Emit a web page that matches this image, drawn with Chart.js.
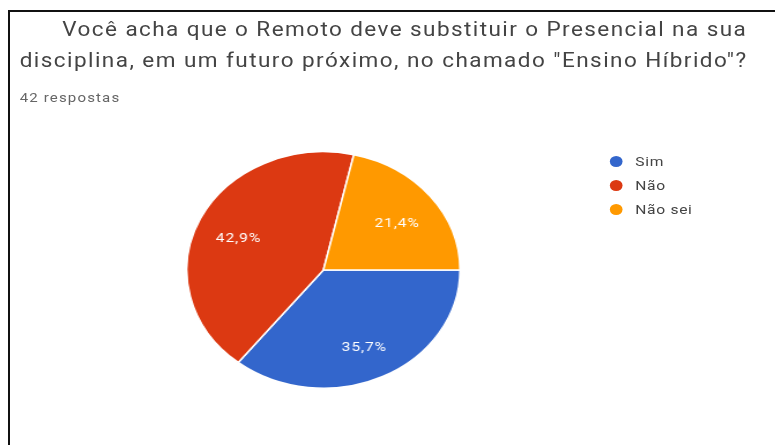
<!DOCTYPE html>
<html>
<head>
<meta charset="utf-8">
<script src="https://cdn.jsdelivr.net/npm/chart.js@4/dist/chart.umd.min.js"></script>
<style>
  html, body { margin: 0; padding: 0; background: #fff; }
  body { width: 775px; height: 445px; position: relative; overflow: hidden; font-family: Roboto, Arial, sans-serif; }
  .frame { position: absolute; left: 8px; top: 10px; right: -4px; bottom: -4px; border-top: 2px solid #111; border-left: 2px solid #111; }
  /* whole card is a bit wider than tall, so stretch it sideways */
  #card { position: absolute; left: 0; top: 0; width: 671px; height: 445px; transform: scaleX(1.155); transform-origin: 0 0; }
  .title { position: absolute; font-size: 19.5px; color: #444; white-space: nowrap; }
  .sub { position: absolute; left: 17px; top: 90px; font-size: 13px; letter-spacing: 1px; color: #666; }
  #pieBox { position: absolute; left: 157px; top: 147px; width: 246px; height: 246px; }
  #legend { position: absolute; left: 528px; top: 149px; font-size: 13.5px; letter-spacing: 0.6px; color: #444; }
  #legend div { height: 24px; line-height: 18px; display: flex; align-items: center; }
  #legend span.dot { width: 11px; height: 11px; border-radius: 50%; margin-right: 11px; display: inline-block; }
</style>
</head>
<body>
<div class="frame"></div>
<div id="card">
  <div class="title" style="left:54px; top:18px; letter-spacing:1.22px;">Você acha que o Remoto deve substituir o Presencial na sua</div>
  <div class="title" style="left:17px; top:49px; letter-spacing:1.25px;">disciplina, em um futuro próximo, no chamado "Ensino Híbrido"?</div>
  <div class="sub">42 respostas</div>
  <div id="pieBox"><canvas id="pie"></canvas></div>
  <div id="legend"></div>
</div>
<script>
const labels = ["Sim", "Não", "Não sei"];
const counts = [15, 18, 9];
const colors = ["#3366cc", "#dc3912", "#ff9900"];

const total = counts.reduce((a, b) => a + b, 0);

// legend on the right
const legend = document.getElementById("legend");
labels.forEach((name, i) => {
  const row = document.createElement("div");
  row.innerHTML = `<span class="dot" style="background:${colors[i]}"></span>${name}`;
  legend.appendChild(row);
});

// percentage text inside each slice
const sliceLabels = {
  id: "sliceLabels",
  afterDatasetsDraw(chart) {
    const ctx = chart.ctx;
    const meta = chart.getDatasetMeta(0);
    ctx.save();
    ctx.fillStyle = "#fff";
    ctx.font = "13.5px Roboto, Arial, sans-serif";
    ctx.letterSpacing = "0.8px";
    ctx.textAlign = "center";
    ctx.textBaseline = "middle";
    meta.data.forEach((arc, i) => {
      const p = arc.getProps(["x", "y", "startAngle", "endAngle", "outerRadius"], true);
      const mid = (p.startAngle + p.endAngle) / 2;
      const r = p.outerRadius * 0.69;
      const pct = (counts[i] / total * 100).toFixed(1).replace(".", ",") + "%";
      ctx.fillText(pct, p.x + Math.cos(mid) * r, p.y + Math.sin(mid) * r + 4);
    });
    ctx.restore();
  }
};

new Chart(document.getElementById("pie"), {
  type: "pie",
  data: {
    labels: labels,
    datasets: [{
      data: counts,
      backgroundColor: colors,
      borderColor: "#fff",
      borderWidth: 1.5
    }]
  },
  options: {
    responsive: true,
    maintainAspectRatio: false,
    animation: false,
    rotation: 90,
    layout: { padding: 4 },
    plugins: {
      legend: { display: false },
      tooltip: { enabled: false }
    }
  },
  plugins: [sliceLabels]
});
</script>
</body>
</html>
